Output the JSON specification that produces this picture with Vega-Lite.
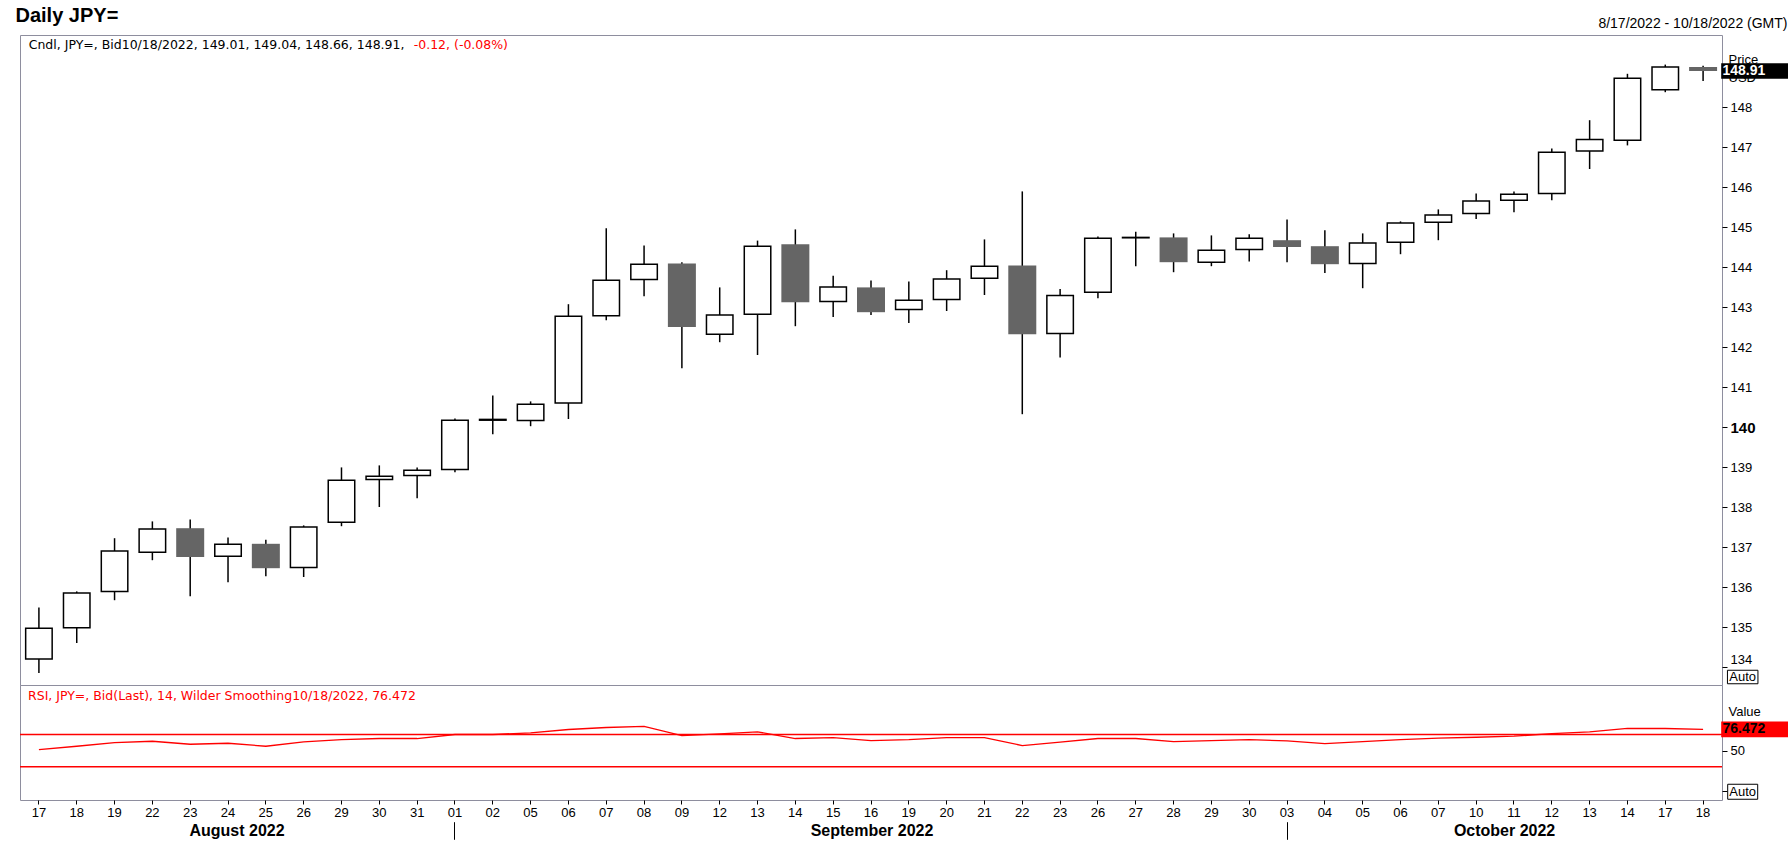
{
  "$schema": "https://vega.github.io/schema/vega-lite/v6.json",
  "description": "Daily JPY= candlestick chart with RSI panel",
  "background": "white",
  "padding": {"left": 15, "top": 5, "right": 3, "bottom": 0},
  "spacing": 0,
  "bounds": "flush",
  "title": {
    "text": "Daily JPY=",
    "anchor": "start",
    "frame": "group",
    "font": "Liberation Sans",
    "fontSize": 20,
    "fontWeight": "bold",
    "color": "black",
    "baseline": "alphabetic",
    "offset": -26,
    "dx": -4.5
  },
  "datasets": {
    "px": [
      {"date": "2022-08-17", "open": 134.21, "high": 135.50, "low": 133.86, "close": 134.98, "rsi": 51.2},
      {"date": "2022-08-18", "open": 134.99, "high": 135.90, "low": 134.61, "close": 135.86, "rsi": 55.4},
      {"date": "2022-08-19", "open": 135.90, "high": 137.23, "low": 135.68, "close": 136.91, "rsi": 60.0},
      {"date": "2022-08-22", "open": 136.88, "high": 137.65, "low": 136.68, "close": 137.46, "rsi": 61.6},
      {"date": "2022-08-23", "open": 137.48, "high": 137.70, "low": 135.78, "close": 136.76, "rsi": 57.9},
      {"date": "2022-08-24", "open": 136.78, "high": 137.25, "low": 136.13, "close": 137.08, "rsi": 59.1},
      {"date": "2022-08-25", "open": 137.09, "high": 137.19, "low": 136.28, "close": 136.48, "rsi": 55.4},
      {"date": "2022-08-26", "open": 136.50, "high": 137.55, "low": 136.26, "close": 137.51, "rsi": 60.8},
      {"date": "2022-08-29", "open": 137.63, "high": 139.00, "low": 137.53, "close": 138.68, "rsi": 63.7},
      {"date": "2022-08-30", "open": 138.70, "high": 139.05, "low": 138.01, "close": 138.78, "rsi": 65.0},
      {"date": "2022-08-31", "open": 138.80, "high": 139.00, "low": 138.23, "close": 138.93, "rsi": 65.0},
      {"date": "2022-09-01", "open": 138.95, "high": 140.22, "low": 138.88, "close": 140.18, "rsi": 70.0},
      {"date": "2022-09-02", "open": 140.18, "high": 140.80, "low": 139.83, "close": 140.20, "rsi": 70.0},
      {"date": "2022-09-05", "open": 140.17, "high": 140.65, "low": 140.03, "close": 140.58, "rsi": 72.0},
      {"date": "2022-09-06", "open": 140.61, "high": 143.08, "low": 140.21, "close": 142.78, "rsi": 76.2},
      {"date": "2022-09-07", "open": 142.79, "high": 144.98, "low": 142.68, "close": 143.68, "rsi": 78.7},
      {"date": "2022-09-08", "open": 143.70, "high": 144.55, "low": 143.28, "close": 144.08, "rsi": 80.0},
      {"date": "2022-09-09", "open": 144.10, "high": 144.13, "low": 141.48, "close": 142.51, "rsi": 68.7},
      {"date": "2022-09-12", "open": 142.33, "high": 143.50, "low": 142.13, "close": 142.81, "rsi": 70.8},
      {"date": "2022-09-13", "open": 142.83, "high": 144.67, "low": 141.81, "close": 144.53, "rsi": 73.3},
      {"date": "2022-09-14", "open": 144.58, "high": 144.95, "low": 142.53, "close": 143.13, "rsi": 65.0},
      {"date": "2022-09-15", "open": 143.15, "high": 143.79, "low": 142.76, "close": 143.51, "rsi": 66.2},
      {"date": "2022-09-16", "open": 143.50, "high": 143.67, "low": 142.81, "close": 142.88, "rsi": 62.5},
      {"date": "2022-09-19", "open": 142.95, "high": 143.65, "low": 142.61, "close": 143.18, "rsi": 63.7},
      {"date": "2022-09-20", "open": 143.20, "high": 143.93, "low": 142.91, "close": 143.71, "rsi": 66.2},
      {"date": "2022-09-21", "open": 143.73, "high": 144.70, "low": 143.31, "close": 144.03, "rsi": 66.2},
      {"date": "2022-09-22", "open": 144.05, "high": 145.90, "low": 140.33, "close": 142.33, "rsi": 56.2},
      {"date": "2022-09-23", "open": 142.35, "high": 143.46, "low": 141.75, "close": 143.30, "rsi": 60.4},
      {"date": "2022-09-26", "open": 143.38, "high": 144.77, "low": 143.23, "close": 144.73, "rsi": 65.0},
      {"date": "2022-09-27", "open": 144.74, "high": 144.89, "low": 144.03, "close": 144.75, "rsi": 65.0},
      {"date": "2022-09-28", "open": 144.75, "high": 144.85, "low": 143.88, "close": 144.13, "rsi": 61.2},
      {"date": "2022-09-29", "open": 144.13, "high": 144.80, "low": 144.03, "close": 144.43, "rsi": 62.5},
      {"date": "2022-09-30", "open": 144.45, "high": 144.83, "low": 144.15, "close": 144.73, "rsi": 63.7},
      {"date": "2022-10-03", "open": 144.68, "high": 145.20, "low": 144.13, "close": 144.51, "rsi": 62.0},
      {"date": "2022-10-04", "open": 144.53, "high": 144.93, "low": 143.86, "close": 144.08, "rsi": 58.7},
      {"date": "2022-10-05", "open": 144.10, "high": 144.85, "low": 143.48, "close": 144.61, "rsi": 61.2},
      {"date": "2022-10-06", "open": 144.63, "high": 145.15, "low": 144.33, "close": 145.11, "rsi": 63.7},
      {"date": "2022-10-07", "open": 145.13, "high": 145.45, "low": 144.68, "close": 145.31, "rsi": 65.4},
      {"date": "2022-10-10", "open": 145.35, "high": 145.85, "low": 145.21, "close": 145.66, "rsi": 66.6},
      {"date": "2022-10-11", "open": 145.68, "high": 145.90, "low": 145.38, "close": 145.83, "rsi": 67.9},
      {"date": "2022-10-12", "open": 145.85, "high": 146.97, "low": 145.68, "close": 146.88, "rsi": 71.2},
      {"date": "2022-10-13", "open": 146.91, "high": 147.68, "low": 146.46, "close": 147.20, "rsi": 73.3},
      {"date": "2022-10-14", "open": 147.18, "high": 148.84, "low": 147.05, "close": 148.73, "rsi": 77.5},
      {"date": "2022-10-17", "open": 148.44, "high": 149.07, "low": 148.38, "close": 149.01, "rsi": 77.5},
      {"date": "2022-10-18", "open": 149.01, "high": 149.04, "low": 148.66, "close": 148.91, "rsi": 76.472}
    ]
  },
  "vconcat": [
    {
      "width": 1702,
      "height": 650,
      "data": {"name": "px"},
      "encoding": {
        "x": {
          "field": "date",
          "type": "ordinal",
          "scale": {"type": "band", "paddingInner": 0, "paddingOuter": 0},
          "axis": {
            "orient": "top",
            "labels": false,
            "ticks": false,
            "domain": false,
            "title": "8/17/2022 - 10/18/2022 (GMT)",
            "titleFontSize": 14,
            "titleAnchor": "end",
            "titleAlign": "right",
            "titleBaseline": "alphabetic",
            "titleX": 1767,
            "titleY": -8
          }
        }
      },
      "layer": [
        {
          "mark": {"type": "rule", "color": "black", "strokeWidth": 1.5},
          "encoding": {
            "y": {
              "field": "low",
              "type": "quantitative",
              "scale": {"domain": [133.56, 149.81], "nice": false, "zero": false},
              "axis": {
                "orient": "right",
                "values": [134, 135, 136, 137, 138, 139, 140, 141, 142, 143, 144, 145, 146, 147, 148],
                "tickSize": 5,
                "labelPadding": 3,
                "labelFontWeight": {"expr": "datum.value == 140 ? 'bold' : 'normal'"},
                "labelFontSize": {"expr": "datum.value == 140 ? 15 : 13"},
                "labelOffset": {"expr": "datum.value == 134 ? -8 : 0"},
                "title": ["Price", "USD"],
                "titleAngle": 0,
                "titleAlign": "left",
                "titleBaseline": "alphabetic",
                "titleX": 6,
                "titleY": 28,
                "titleLineHeight": 18
              }
            },
            "y2": {"field": "high"}
          }
        },
        {
          "transform": [{"filter": "datum.close >= datum.open"}],
          "mark": {"type": "bar", "width": 26.5, "fill": "white", "stroke": "black", "strokeWidth": 1.5},
          "encoding": {
            "y": {"field": "open", "type": "quantitative"},
            "y2": {"field": "close"}
          }
        },
        {
          "transform": [{"filter": "datum.close < datum.open"}],
          "mark": {"type": "bar", "width": 28, "fill": "#656565"},
          "encoding": {
            "y": {"field": "open", "type": "quantitative"},
            "y2": {"field": "close"}
          }
        },
        {
          "transform": [{"filter": "datum.date == '2022-10-18'"}],
          "mark": {"type": "tick", "orient": "horizontal", "color": "black", "opacity": 1, "thickness": 15.5, "size": 68, "xOffset": 52.1},
          "encoding": {
            "y": {"field": "close", "type": "quantitative"}
          }
        },
        {
          "transform": [{"filter": "datum.date == '2022-10-18'"}],
          "mark": {"type": "text", "align": "left", "baseline": "middle", "dx": 19.4, "font": "Liberation Sans", "fontSize": 14, "fontWeight": "bold", "color": "white"},
          "encoding": {
            "y": {"field": "close", "type": "quantitative"},
            "text": {"field": "close", "format": ".2f"}
          }
        },
        {
          "data": {"values": [{"note": "Cndl, JPY=, Bid10/18/2022, 149.01, 149.04, 148.66, 148.91,"}]},
          "mark": {"type": "text", "align": "left", "baseline": "middle", "font": "DejaVu Sans", "fontSize": 12.5, "color": "black", "dx": -10.2, "dy": 10},
          "encoding": {
            "x": {"datum": "2022-08-17", "type": "ordinal"},
            "y": {"datum": 149.81, "type": "quantitative"},
            "text": {"field": "note"}
          }
        },
        {
          "data": {"values": [{"note": "-0.12, (-0.08%)"}]},
          "mark": {"type": "text", "align": "left", "baseline": "middle", "font": "DejaVu Sans", "fontSize": 12.5, "color": "#ff0000", "dx": 374.8, "dy": 10},
          "encoding": {
            "x": {"datum": "2022-08-17", "type": "ordinal"},
            "y": {"datum": 149.81, "type": "quantitative"},
            "text": {"field": "note"}
          }
        },
        {
          "data": {"values": [{"note": "Auto"}]},
          "encoding": {
            "x": {"datum": "2022-10-18", "type": "ordinal"},
            "y": {"datum": 133.76, "type": "quantitative"}
          },
          "layer": [
            {"mark": {"type": "tick", "orient": "horizontal", "fill": "white", "stroke": "black", "strokeWidth": 1, "opacity": 1, "thickness": 13.5, "size": 30.5, "xOffset": 39.6}},
            {"mark": {"type": "text", "align": "center", "baseline": "middle", "dx": 39.6, "font": "Liberation Sans", "fontSize": 13, "color": "black"}, "encoding": {"text": {"field": "note"}}}
          ]
        }
      ]
    },
    {
      "width": 1702,
      "height": 115,
      "resolve": {"axis": {"x": "independent"}},
      "layer": [
        {
          "data": {"values": [{"level": 70}, {"level": 30}]},
          "mark": {"type": "rule", "color": "#ff0000", "strokeWidth": 1.5},
          "encoding": {
            "y": {
              "field": "level",
              "type": "quantitative",
              "scale": {"domain": [-11.5, 131.6], "nice": false, "zero": false},
              "axis": {
                "orient": "right",
                "values": [50, 0],
                "labelExpr": "datum.value == 50 ? '50' : ''",
                "tickSize": 5,
                "labelPadding": 3,
                "title": "Value",
                "titleAngle": 0,
                "titleAlign": "left",
                "titleBaseline": "alphabetic",
                "titleX": 6,
                "titleY": 30.5
              }
            }
          }
        },
        {
          "data": {"values": [{"note": "RSI, JPY=, Bid(Last),  14, Wilder Smoothing10/18/2022, 76.472"}]},
          "mark": {"type": "text", "align": "left", "baseline": "middle", "font": "DejaVu Sans", "fontSize": 12.5, "color": "#ff0000", "dx": -10.9, "dy": 10.5},
          "encoding": {
            "x": {"datum": "2022-08-17", "type": "ordinal", "axis": null},
            "y": {"datum": 131.6, "type": "quantitative"},
            "text": {"field": "note"}
          }
        },
        {
          "data": {"name": "px"},
          "mark": {"type": "line", "color": "#ff0000", "strokeWidth": 1.3},
          "encoding": {
            "x": {
              "field": "date",
              "type": "ordinal",
              "scale": {"type": "band", "paddingInner": 0, "paddingOuter": 0},
              "axis": {
                "orient": "bottom",
                "labelExpr": "slice(datum.value, 8, 10)",
                "labelAngle": 0,
                "tickSize": 4,
                "labelPadding": 2,
                "domain": false,
                "title": null
              }
            },
            "y": {"field": "rsi", "type": "quantitative"}
          }
        },
        {
          "data": {"name": "px"},
          "transform": [{"filter": "datum.date == '2022-10-18'"}],
          "mark": {"type": "tick", "orient": "horizontal", "color": "#ff0000", "opacity": 1, "thickness": 15.7, "size": 68, "xOffset": 52.1},
          "encoding": {
            "x": {
              "field": "date",
              "type": "ordinal",
              "axis": {
                "orient": "bottom",
                "values": ["2022-08-24", "2022-09-16", "2022-10-11"],
                "labelExpr": "slice(datum.value, 5, 7) == '08' ? 'August 2022' : slice(datum.value, 5, 7) == '09' ? 'September 2022' : 'October 2022'",
                "labelOffset": {"expr": "datum.value == '2022-08-24' ? 9 : datum.value == '2022-10-11' ? -9.4 : 1"},
                "labelAngle": 0,
                "ticks": false,
                "domain": false,
                "labelPadding": 22,
                "labelBaseline": "top",
                "labelFontSize": 16,
                "labelFontWeight": "bold",
                "labelOverlap": false,
                "title": null
              }
            },
            "y": {"field": "rsi", "type": "quantitative"}
          }
        },
        {
          "data": {"name": "px"},
          "transform": [{"filter": "datum.date == '2022-10-18'"}],
          "mark": {"type": "text", "align": "left", "baseline": "middle", "dx": 19.4, "font": "Liberation Sans", "fontSize": 14, "fontWeight": "bold", "color": "black"},
          "encoding": {
            "x": {
              "field": "date",
              "type": "ordinal",
              "axis": {
                "orient": "bottom",
                "values": ["2022-09-01", "2022-10-03"],
                "labels": false,
                "domain": false,
                "tickSize": 17.6,
                "tickWidth": 1,
                "offset": 21.7,
                "title": null
              }
            },
            "y": {"field": "rsi", "type": "quantitative"},
            "text": {"field": "rsi", "format": ".3f"}
          }
        },
        {
          "data": {"values": [{"note": "Auto"}]},
          "encoding": {
            "x": {"datum": "2022-10-18", "type": "ordinal", "axis": null},
            "y": {"datum": -1.25, "type": "quantitative"}
          },
          "layer": [
            {"mark": {"type": "tick", "orient": "horizontal", "fill": "white", "stroke": "black", "strokeWidth": 1, "opacity": 1, "thickness": 15, "size": 30, "xOffset": 39.6}},
            {"mark": {"type": "text", "align": "center", "baseline": "middle", "dx": 39.6, "font": "Liberation Sans", "fontSize": 13, "color": "black"}, "encoding": {"text": {"field": "note"}}}
          ]
        }
      ]
    }
  ],
  "config": {
    "view": {"stroke": "#8e8e9e", "strokeWidth": 1},
    "axis": {
      "grid": false,
      "domain": false,
      "labelFont": "Liberation Sans",
      "labelFontSize": 13,
      "labelColor": "black",
      "tickColor": "black",
      "titleFont": "Liberation Sans",
      "titleFontSize": 13,
      "titleFontWeight": "normal",
      "titleColor": "black"
    }
  }
}
